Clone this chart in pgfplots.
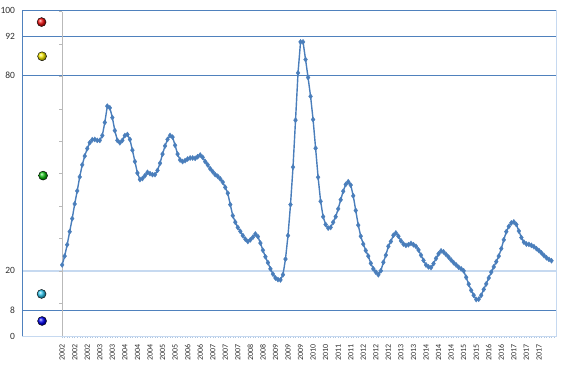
\documentclass[border=0pt]{standalone}
\usepackage{pgfplots}
\pgfplotsset{compat=1.18}
\usepackage{pgfplotstable}
\usepackage{fontspec}
\setmainfont{Carlito}
\definecolor{ser}{HTML}{4A7EBB}
\definecolor{frame}{HTML}{4F81BD}
\definecolor{lightb}{HTML}{C6D9F0}
\definecolor{txt}{HTML}{303030}
\definecolor{ballred}{HTML}{F01010}
\definecolor{ballyel}{HTML}{F8EC00}
\definecolor{ballgrn}{HTML}{10C010}
\definecolor{ballcyn}{HTML}{30C8F0}
\definecolor{ballblu}{HTML}{0000F0}

\pgfplotstableread{
x y
0 21.8
1 24.5
2 28.0
3 32.0
4 36.0
5 40.5
6 44.5
7 48.8
8 52.5
9 55.2
10 57.5
11 59.3
12 60.2
13 60.3
14 60.0
15 60.0
16 61.5
17 65.5
18 70.5
19 70.0
20 67.0
21 63.0
22 60.0
23 59.3
24 60.0
25 61.5
26 61.8
27 60.3
28 57.0
29 53.5
30 50.0
31 48.0
32 48.3
33 49.2
34 50.2
35 49.8
36 49.5
37 49.5
38 50.8
39 53.0
40 55.8
41 58.3
42 60.3
43 61.5
44 61.0
45 58.5
46 55.8
47 54.0
48 53.5
49 53.8
50 54.3
51 54.6
52 54.6
53 54.5
54 55.0
55 55.5
56 54.8
57 53.5
58 52.5
59 51.3
60 50.4
61 49.5
62 49.0
63 48.2
64 47.2
65 45.6
66 43.8
67 40.3
68 36.9
69 34.9
70 33.3
71 32.1
72 30.8
73 29.7
74 29.0
75 29.5
76 30.3
77 31.3
78 30.5
79 28.5
80 26.3
81 24.3
82 22.5
83 20.6
84 19.0
85 17.8
86 17.3
87 17.2
88 18.8
89 23.6
90 30.8
91 40.3
92 51.8
93 66.2
94 80.7
95 90.2
96 90.2
97 84.8
98 79.3
99 73.5
100 66.4
101 57.6
102 48.7
103 41.3
104 36.6
105 34.2
106 33.1
107 33.3
108 34.9
109 36.6
110 39.0
111 41.8
112 44.4
113 46.5
114 47.3
115 46.3
116 43.0
117 38.5
118 34.0
119 30.6
120 28.2
121 26.2
122 24.5
123 22.3
124 20.6
125 19.6
126 18.8
127 20.0
128 22.6
129 24.8
130 27.5
131 29.0
132 30.9
133 31.6
134 30.6
135 29.2
136 28.2
137 27.8
138 28.0
139 28.4
140 28.0
141 27.5
142 26.4
143 24.8
144 23.2
145 21.8
146 21.2
147 21.0
148 22.2
149 23.8
150 25.2
151 26.1
152 25.8
153 25.0
154 24.2
155 23.3
156 22.5
157 21.8
158 21.1
159 20.6
160 20.0
161 18.0
162 15.9
163 14.0
164 12.5
165 11.2
166 11.3
167 12.5
168 14.3
169 16.0
170 17.8
171 19.6
172 21.2
173 22.8
174 24.5
175 26.8
176 29.5
177 32.0
178 33.6
179 34.7
180 35.0
181 34.2
182 32.2
183 30.2
184 28.8
185 28.2
186 28.1
187 27.8
188 27.4
189 26.8
190 26.2
191 25.5
192 24.7
193 24.0
194 23.5
195 23.1
}\datatable

\begin{document}
\begin{tikzpicture}
\useasboundingbox (0,0) rectangle (566pt,369pt);
\begin{axis}[
  at={(22pt,33pt)}, anchor=south west,
  width=534pt, height=326pt, scale only axis,
  xmin=-16, xmax=196.8, ymin=0, ymax=100,
  axis line style={draw=none},
  clip=false,
  ytick={0,8,20,80,92,100},
  ytick pos=left,
  ytick style={draw=none},
  yticklabel style={font=\fontsize{9.5}{10}\selectfont, color=txt, xshift=-1pt},
  /pgf/number format/assume math mode=true,
  xtick={0,5,...,190},
  xticklabels={2002,2002,2002,2003,2003,2004,2004,2004,2005,2005,2006,2006,2007,2007,2007,2008,2008,2009,2009,2009,2010,2010,2011,2011,2012,2012,2012,2013,2013,2014,2014,2014,2015,2015,2016,2016,2017,2017,2017},
  minor xtick={0,1,...,196},
  xtick pos=bottom,
  tick align=outside,
  major tick length=2.5pt,
  minor tick length=2pt,
  xtick style={color=frame!45, line width=0.4pt},
  xticklabel style={rotate=90, anchor=east, font=\fontsize{8}{8}\selectfont, color=txt, xshift=-2pt},
]
% threshold lines
\draw[frame, line width=0.8pt] (axis cs:-16,92) -- (axis cs:196.8,92);
\draw[frame, line width=0.8pt] (axis cs:-16,80) -- (axis cs:196.8,80);
\draw[lightb, line width=2pt] (axis cs:-16,20) -- (axis cs:196.8,20);
\draw[frame, line width=0.8pt] (axis cs:-16,8) -- (axis cs:196.8,8);
% frame
\draw[lightb, line width=0.8pt] (rel axis cs:0,0) -- (rel axis cs:1,0) -- (rel axis cs:1,1);
\draw[frame, line width=0.8pt] (rel axis cs:0,0) -- (rel axis cs:0,1) -- (rel axis cs:1,1);
% inner gray axis
\draw[gray!55, line width=1pt] (axis cs:0,0) -- (axis cs:0,99.5);
\pgfplotsinvokeforeach{9.95,19.9,29.85,39.8,49.75,59.7,69.65,79.6,89.55,99.5}{
  \draw[gray!55, line width=0.8pt] (axis cs:0,#1) -- (axis cs:-1.3,#1);
}
% band balls
\addplot[only marks, mark=ball, mark size=4.5pt, mark options={ball color=ballred}] coordinates {(-8.2,96.3)};
\addplot[only marks, mark=ball, mark size=4.5pt, mark options={ball color=ballyel}] coordinates {(-8.0,85.8)};
\addplot[only marks, mark=ball, mark size=4.5pt, mark options={ball color=ballgrn}] coordinates {(-7.6,49.2)};
\addplot[only marks, mark=ball, mark size=4.5pt, mark options={ball color=ballcyn}] coordinates {(-8.2,12.9)};
\addplot[only marks, mark=ball, mark size=4.5pt, mark options={ball color=ballblu}] coordinates {(-8.0,4.6)};
% series
\addplot[ser, line width=1.4pt, mark=diamond*, mark size=2.6pt, mark options={fill=ser, draw=ser, line width=0.3pt}] table[x=x, y=y] {\datatable};
\end{axis}
\end{tikzpicture}
\end{document}
